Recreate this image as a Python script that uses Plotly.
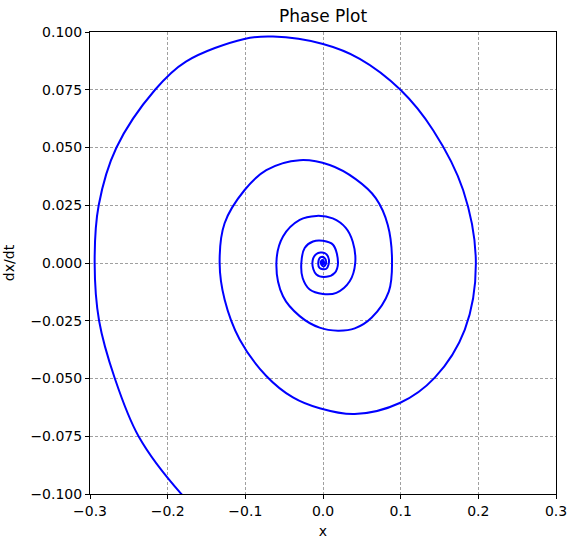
import plotly.graph_objects as go

x_vals = [-0.1323, -0.1834, -0.2375, -0.268, -0.2883, -0.294, -0.2888, -0.2659, -0.2162, -0.1765,
          -0.1013, -0.0644, 0.0, 0.0473, 0.0997, 0.1418, 0.1804, 0.1968, 0.1826, 0.1439,
          0.0988, 0.0408, -0.0043, -0.0387, -0.073, -0.1073, -0.1267, -0.1331, -0.1267, -0.1009,
          -0.073, -0.030, 0.0086, 0.0421, 0.0679, 0.0834, 0.0889, 0.0847, 0.0628, 0.0409,
          0.0193, -0.0043, -0.030, -0.0515, -0.060, -0.0515, -0.030, -0.0085, 0.0125, 0.0293,
          0.0383, 0.0415, 0.0344, 0.0172, 0.0, -0.0171, -0.0262, -0.0279, -0.0236, -0.0129,
          0.0, 0.0129, 0.0193, 0.0151, 0.0043, -0.0085, -0.0137, -0.0085, 0.0022, 0.0077,
          0.0043, -0.0043, -0.006, -0.003, 0.002, 0.004, 0.001, -0.002, -0.0025, 0.0,
          0.0015, 0.0, -0.0008, 0.0, 0.0]
y_vals = [-0.116, -0.0996, -0.075, -0.050, -0.025, 0.0, 0.025, 0.050, 0.075, 0.0872,
          0.097, 0.098, 0.0948, 0.0884, 0.075, 0.0575, 0.0316, 0.0, -0.0288, -0.0496,
          -0.0606, -0.0654, -0.0629, -0.0582, -0.0489, -0.0331, -0.0158, 0.0, 0.0172, 0.0316,
          0.0402, 0.0445, 0.0424, 0.0363, 0.0281, 0.0165, 0.0, -0.0124, -0.0236, -0.0283,
          -0.0293, -0.028, -0.023, -0.0144, 0.0, 0.0115, 0.0187, 0.0204, 0.0193, 0.0152,
          0.0092, 0.0, -0.0079, -0.0129, -0.0134, -0.0115, -0.0065, 0.0, 0.0065, 0.0093,
          0.0096, 0.0079, 0.0, -0.0043, -0.006, -0.005, 0.0, 0.0039, 0.0043, 0.0014,
          -0.0025, -0.0022, 0.0005, 0.0025, 0.0022, 0.0, -0.0015, -0.0008, 0.0008, 0.0012,
          0.0, -0.0006, 0.0, 0.0004, 0.0]

x_ticks = [-0.3, -0.2, -0.1, 0.0, 0.1, 0.2, 0.3]
y_ticks = [-0.100, -0.075, -0.050, -0.025, 0.000, 0.025, 0.050, 0.075, 0.100]

FONT = "DejaVu Sans"

fig = go.Figure()
fig.add_trace(go.Scatter(
    x=x_vals, y=y_vals, mode="lines",
    line=dict(color="#0000ff", width=2, shape="spline", smoothing=1.0),
    showlegend=False, hoverinfo="skip"))

axis_common = dict(
    showline=True, linecolor="black", linewidth=1, mirror=True,
    ticks="outside", ticklen=4, tickcolor="black", tickwidth=1,
    showgrid=True, gridcolor="#a0a0a0", griddash="3px,2px", gridwidth=0.7,
    zeroline=False, automargin=False,
    tickfont=dict(family=FONT, size=14, color="black"),
)

fig.update_layout(
    width=576, height=547,
    margin=dict(l=90, r=20, t=32, b=53),
    paper_bgcolor="white", plot_bgcolor="white",
    title=dict(text="Phase Plot", x=0.5, xanchor="center", xref="paper",
               y=1, yref="paper", yanchor="bottom", pad=dict(b=10),
               font=dict(family=FONT, size=17, color="black")),
    xaxis=dict(range=[-0.3, 0.3], tickvals=x_ticks, tickformat=".1f",
               title=dict(text="x", standoff=8,
                          font=dict(family=FONT, size=14, color="black")),
               **axis_common),
    yaxis=dict(range=[-0.1, 0.1], tickvals=y_ticks, tickformat=".3f",
               title=dict(text="dx/dt", standoff=12,
                          font=dict(family=FONT, size=14, color="black")),
               **axis_common),
)

fig.write_html("out.html", config={"displayModeBar": False},
               post_script="document.body.style.margin='0px';")
